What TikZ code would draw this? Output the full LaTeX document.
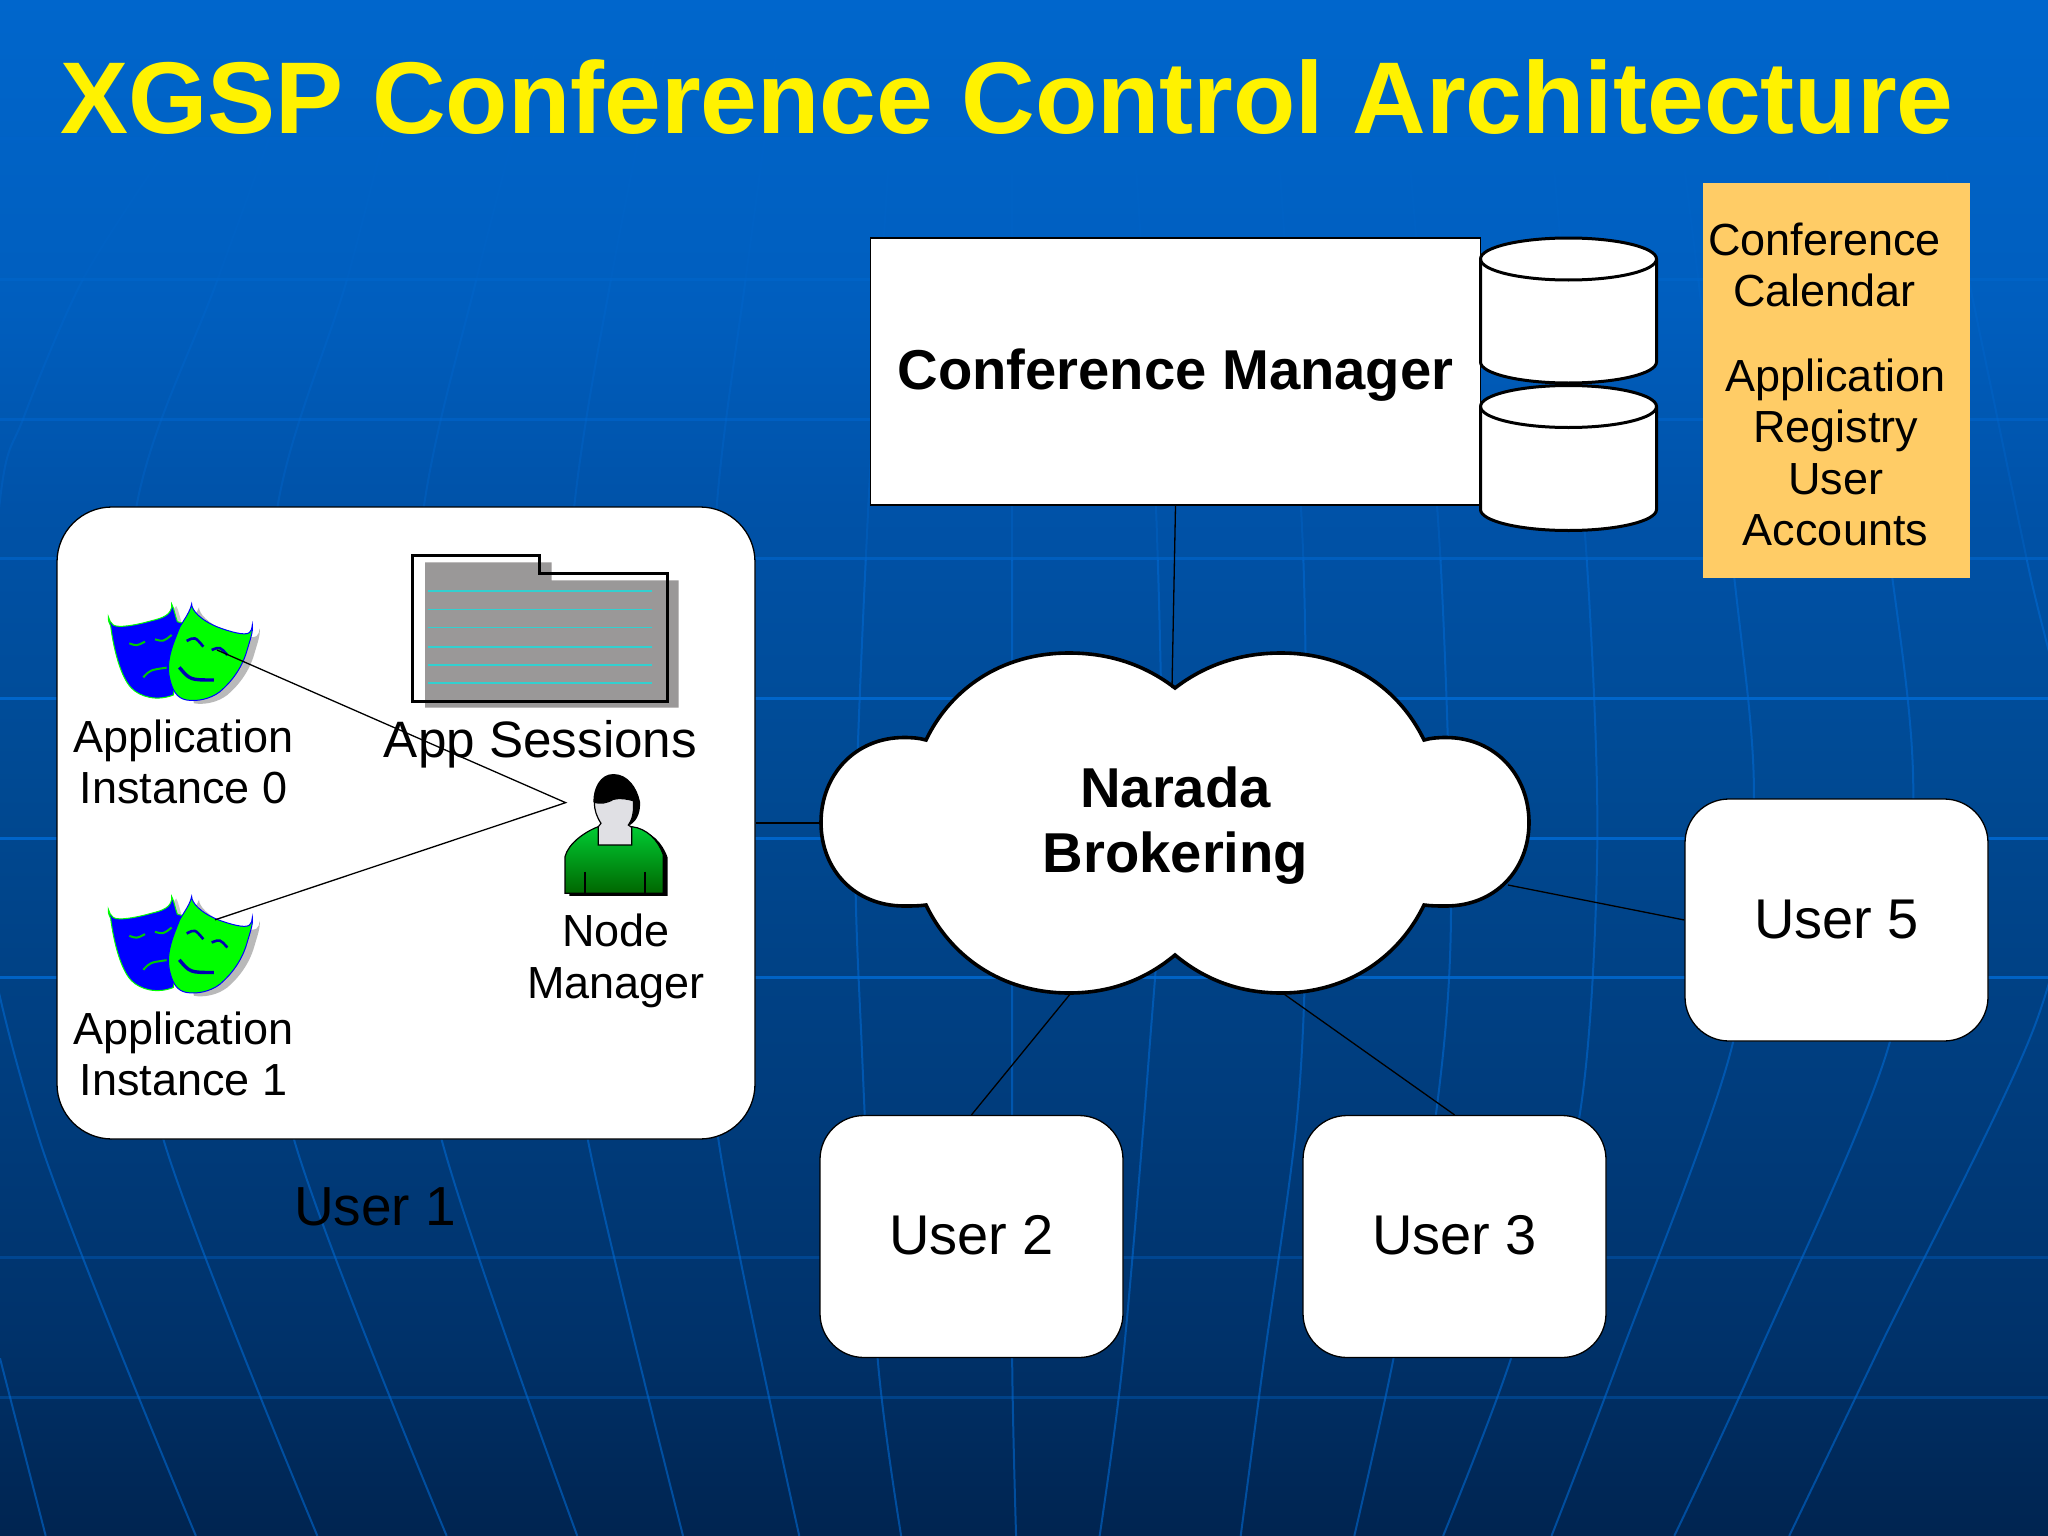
\documentclass[tikz,border=0pt]{standalone}
\usepackage{fontspec}
\setmainfont{Liberation Sans}
\definecolor{sheetorange}{HTML}{FFCC66}
\definecolor{gridblue}{HTML}{0068D0}
\definecolor{sheetgrey}{HTML}{9A9898}
\definecolor{sheetcyan}{HTML}{33D0D0}
\definecolor{shirtlight}{HTML}{00CC33}
\definecolor{shirtdark}{HTML}{006600}
\definecolor{skingrey}{HTML}{E0E0E4}
\pgfdeclareverticalshading{slideback}{100bp}{
	rgb(0bp)=(0,0.141,0.314);
	rgb(25bp)=(0,0.141,0.314);
	rgb(31.5bp)=(0,0.196,0.416);
	rgb(39bp)=(0,0.235,0.486);
	rgb(50bp)=(0,0.29,0.58);
	rgb(58.5bp)=(0,0.322,0.659);
	rgb(65bp)=(0,0.369,0.745);
	rgb(75bp)=(0,0.4,0.8);
	rgb(100bp)=(0,0.4,0.8)}
\newcommand\labelfont{\fontsize{45}{51.3}\selectfont}
\newcommand\userfont{\fontsize{56}{64}\selectfont}
\newcommand\boldfont{\fontsize{56.2}{65}\selectfont\bfseries}
\newcommand\meridians{
	\draw [meridian] plot[smooth] coordinates {(127,115) (64,213) (18,320) (0,383) (-20,640) (30,872) (150,1176)};
	\draw [meridian] plot[smooth] coordinates {(245,0) (167,213) (105,385) (85,640) (125,872) (243,1176)};
	\draw [meridian] plot[smooth] coordinates {(310,40) (266,213) (213,385) (190,640) (225,872) (342,1176)};
	\draw [meridian] plot[smooth] coordinates {(420,0) (365,213) (325,385) (300,640) (338,872) (442,1176)};
	\draw [meridian] plot[smooth] coordinates {(510,0) (468,213) (440,385) (420,640) (450,872) (523,1176)};
	\draw [meridian] plot[smooth] coordinates {(600,0) (571,213) (549,385) (535,640) (550,872) (612,1176)};
	\draw [meridian] plot[smooth] coordinates {(680,130) (665,385) (655,640) (660,805) (672,1040) (690,1176)};
	\draw [meridian] plot[smooth] coordinates {(775,130) (775,385) (775,640) (775,805) (775,1040) (778,1176)};
	\draw [meridian] plot[smooth] coordinates {(870,130) (885,385) (890,640) (880,805) (860,1040) (842,1176)};
	\draw [meridian] plot[smooth] coordinates {(980,130) (998,429) (1000,700) (993,857) (968,1040) (950,1176)};
	\draw [meridian] plot[smooth] coordinates {(1080,130) (1103,429) (1111,702) (1099,857) (1067,1040) (1037,1176)};
	\draw [meridian] plot[smooth] coordinates {(1190,130) (1215,429) (1223,650) (1209,857) (1157,1040) (1105,1176)};
	\draw [meridian] plot[smooth] coordinates {(1290,130) (1328,443) (1343,610) (1327,798) (1240,1040) (1188,1176)};
	\draw [meridian] plot[smooth] coordinates {(1400,130) (1449,443) (1465,610) (1447,798) (1345,1040) (1282,1176)};
	\draw [meridian] plot[smooth] coordinates {(1490,130) (1552,429) (1590,610) (1560,780) (1440,1030) (1370,1176)};
	\draw [meridian] (0,1040) -- (35,1176);
}
\tikzset{
	meridian/.style={gridblue,line width=2pt},
	userbox/.style={draw=black,fill=white,rounded corners=44pt,line width=1.3pt,minimum width=303pt,minimum height=242pt,font=\userfont,text height=36.4pt,text depth=0pt},
	labeltext/.style={inner sep=0pt,align=center,font=\labelfont},
	drum/.pic={
		\draw [fill=white,line width=3pt] (-88,-51.5) arc[start angle=180,end angle=360,x radius=88,y radius=21] -- (88,51.5) arc[start angle=0,end angle=180,x radius=88,y radius=21] -- cycle;
		\draw [line width=3pt] (-88,-51.5) arc[start angle=180,end angle=0,x radius=88,y radius=21];
	},
	masks/.pic={
		\begin{scope}[x=0.3333pt,y=-0.3333pt]
			\fill [gray!55,shift={(22,10)}] (305,42) .. controls (305,60) and (330,90) .. (385,112) .. controls (420,125) and (465,138) .. (478,128) .. controls (484,122) and (487,115) .. (487,105) .. controls (490,125) and (480,150) .. (470,185) .. controls (455,235) and (425,275) .. (390,305) .. controls (360,328) and (320,335) .. (290,330) -- (250,160) -- cycle;
			\fill [gray!40,shift={(14,6)}] (245,42) .. controls (252,55) and (255,75) .. (262,95) -- (240,120) -- (200,95) -- cycle;
			\draw [draw=green,fill=blue,line width=1pt] (55,80) .. controls (54,92) and (58,100) .. (62,108) .. controls (70,170) and (90,260) .. (125,295) .. controls (150,320) and (200,335) .. (250,315) -- (280,100) -- (262,95) .. controls (255,75) and (252,55) .. (245,42) .. controls (248,75) and (215,85) .. (185,92) .. controls (140,105) and (85,115) .. (70,105) .. controls (62,100) and (58,90) .. (55,80) -- cycle;
			\draw [green!80!black,line width=2pt] (118,160) .. controls (140,168) .. (165,155);
			\draw [green!80!black,line width=2pt] (195,148) .. controls (220,155) .. (245,135);
			\draw [green!80!black,line width=2pt] (160,262) .. controls (180,240) .. (230,233);
			\draw [draw=blue,fill=green,line width=1pt] (305,42) .. controls (305,60) and (330,90) .. (385,112) .. controls (420,125) and (465,138) .. (478,128) .. controls (484,122) and (487,115) .. (487,105) .. controls (490,125) and (480,150) .. (470,185) .. controls (455,235) and (425,275) .. (390,305) .. controls (360,328) and (320,335) .. (290,330) .. controls (260,325) and (245,300) .. (237,255) .. controls (230,205) and (250,160) .. (270,110) .. controls (285,85) and (300,65) .. (305,42) -- cycle;
			\draw [blue!70!black,line width=2.6pt] (290,153) .. controls (315,140) .. (340,170);
			\draw [blue!70!black,line width=2.6pt] (365,180) .. controls (390,170) .. (412,195);
			\draw [blue!70!black,line width=3.4pt] (268,232) .. controls (300,270) .. (372,270);
			\coordinate (-eye) at (381,180);
			\coordinate (-rim) at (375,112);
		\end{scope}
	}
}
\begin{document}
\begin{tikzpicture}[x=1pt,y=-1pt]
	\useasboundingbox (0,0) rectangle (2048,1536);
	\fill [shading=slideback] (0,0) rectangle (2048,1536);
	\foreach \y/\o in {139/.2,279/.45,419/.5,558/.6,698/.9,838/.9,977/.85,1257/.35,1397/.35}
		\draw [gridblue,line width=3pt,opacity=\o] (0,\y) -- (2048,\y);
	\foreach \top/\bot/\o in {0/280/.15,280/560/.35,560/1536/.6}{
		\begin{scope}
			\clip (0,\top) rectangle (2048,\bot);
			\begin{scope}[x=1.306pt,y=-1.306pt,opacity=\o]
				\meridians
			\end{scope}
		\end{scope}
	}

	\node (title) [anchor=base,inner sep=0pt,yellow,font=\fontsize{102}{117}\selectfont\bfseries] at (1007,134) {XGSP Conference Control Architecture};

	\node (manager) [draw=black,fill=white,line width=1.3pt,minimum width=610pt,minimum height=267pt,font=\boldfont,text height=40pt,text depth=5pt] at (1175.5,371.5) {Conference Manager};
	\pic (drumA) at (1568.5,310.5) {drum};
	\pic (drumB) at (1568.5,458) {drum};
	\node (stores) [fill=sheetorange,minimum width=267pt,minimum height=395pt] at (1836.5,380.5) {};
	\node (calendar) [labeltext] at (1824.5,265) {Conference\\Calendar};
	\node (registry) [labeltext] at (1835.5,452.5) {Application\\Registry\\User\\Accounts};

	\node (user1) [userbox,rounded corners=55pt,minimum width=698pt,minimum height=632pt] at (406,823) {};
	\node (user1label) [inner sep=0pt,font=\fontsize{55}{64}\selectfont] at (375,1207) {User 1};
	\node (user2) [userbox] at (971.5,1236.5) {User 2};
	\node (user3) [userbox] at (1454.5,1236.5) {User 3};
	\node (user5) [userbox] at (1836.5,920) {User 5};

	\fill [sheetgrey] (425,562.3) -- (551.7,562.3) -- (551.7,580.3) -- (678.7,580.3) -- (678.7,707.7) -- (425,707.7) -- cycle;
	\draw [line width=3pt] (412.3,555) -- (539.3,555) -- (539.3,573.3) -- (667.3,573.3) -- (667.3,701) -- (412.3,701) -- cycle;
	\foreach \y in {591,609.3,627.3,646.7,664.7,682.7}
		\draw [sheetcyan,line width=1.6pt] (428.3,\y) -- (651.7,\y);
	\node (sessions) [inner sep=0pt,font=\fontsize{51.2}{58}\selectfont] at (540.5,744) {App Sessions};

	\pic (mask0) at (90,590) {masks};
	\pic (mask1) at (90,882.5) {masks};
	\node (inst0) [labeltext] at (183.5,762) {Application\\Instance 0};
	\node (inst1) [labeltext] at (183.5,1054) {Application\\Instance 1};

	\begin{scope}[shift={(550,760)},x=0.3333pt,y=-0.3333pt]
		\fill [shift={(13,8)}] (45,290) .. controls (55,250) and (105,215) .. (145,200) -- (245,200) .. controls (290,205) and (325,240) .. (340,285) -- (340,400) -- (45,400) -- cycle;
		\draw [line width=1.2pt,top color=shirtlight,middle color=shirtlight,bottom color=shirtdark] (45,290) .. controls (55,250) and (105,215) .. (145,200) -- (245,200) .. controls (290,205) and (325,240) .. (340,285) -- (340,400) -- (45,400) -- cycle;
		\draw [line width=1.2pt] (105,335) -- (105,400) (285,335) -- (285,400);
		\fill (190,42) .. controls (150,42) and (130,85) .. (130,125) -- (240,195) .. controls (265,180) and (272,150) .. (270,125) .. controls (262,85) and (235,42) .. (190,42) -- cycle;
		\draw [fill=skingrey,line width=1.2pt] (133,127) .. controls (150,132) and (170,130) .. (190,118) .. controls (210,112) and (235,118) .. (250,122) .. controls (252,150) and (250,175) .. (235,195) -- (245,202) -- (245,255) -- (145,255) -- (145,200) -- (153,190) .. controls (140,170) and (133,150) .. (133,127) -- cycle;
		\coordinate (nmtip) at (47,128);
	\end{scope}
	\node (nodemgr) [labeltext] at (616,961) {Node\\Manager};

	\draw [line width=1.3pt] (mask0-eye) -- (nmtip) -- (mask1-rim);

	\draw [fill=white,line width=3.6pt] (1175,688) .. controls (1205,665) and (1240,653) .. (1281,653) .. controls (1350,653) and (1400,690) .. (1424,740) .. controls (1431,738) and (1438,737.5) .. (1446,737.5) .. controls (1495,737.5) and (1529,775) .. (1529,822.5) .. controls (1529,870) and (1495,906) .. (1446,906) .. controls (1438,906) and (1431,906) .. (1424,905) .. controls (1400,955) and (1350,993) .. (1281,993) .. controls (1240,993) and (1205,980) .. (1175,955) .. controls (1145,980) and (1110,993) .. (1069,993) .. controls (1000,993) and (950,955) .. (926,905) .. controls (919,906) and (912,906) .. (904,906) .. controls (855,906) and (821,870) .. (821,822.5) .. controls (821,775) and (855,737.5) .. (904,737.5) .. controls (912,737.5) and (919,738) .. (926,740) .. controls (950,690) and (1000,653) .. (1069,653) .. controls (1110,653) and (1145,665) .. (1175,688) -- cycle;
	\node (narada) [inner sep=0pt,align=center,font=\boldfont] at (1175.5,826) {Narada\\Brokering};
	\coordinate (cloudtop) at (1172,688);
	\coordinate (cloudwest) at (821,823);
	\coordinate (cloudeast) at (1508,885);
	\coordinate (cloudsw) at (1071,993);
	\coordinate (cloudse) at (1282.5,993);

	\draw [line width=1.3pt] (manager.south) -- (cloudtop);
	\draw [line width=1.3pt] (user1.east) -- (cloudwest);
	\draw [line width=1.3pt] (user5.west) -- (cloudeast);
	\draw [line width=1.3pt] (user2.north) -- (cloudsw);
	\draw [line width=1.3pt] (user3.north) -- (cloudse);
\end{tikzpicture}
\end{document}
